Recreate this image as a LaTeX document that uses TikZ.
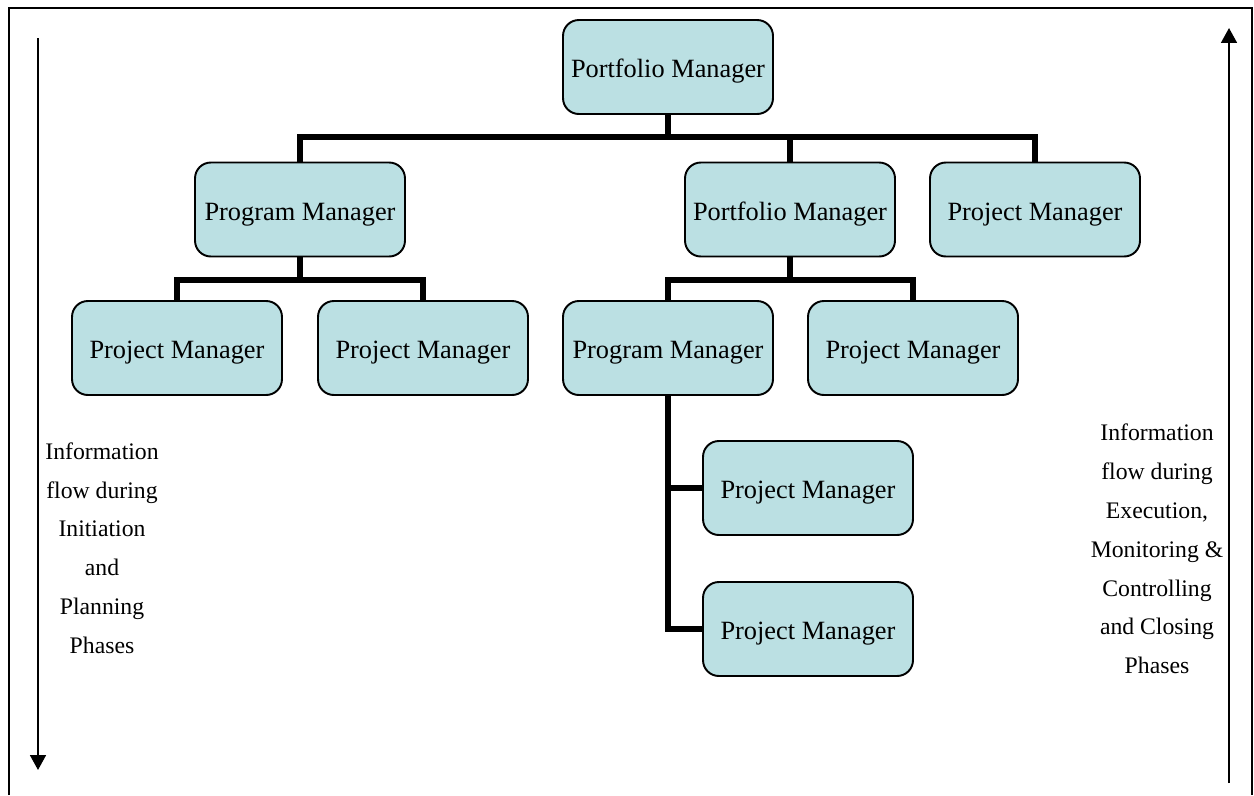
\documentclass[tikz,border=0pt]{standalone}
\usepackage{fontspec}
\setmainfont{Liberation Serif}
\usetikzlibrary{arrows.meta}
\definecolor{boxfill}{RGB}{187,224,227}
\tikzset{
  role/.style={draw=black, line width=1.1pt, fill=boxfill, rounded corners=9pt,
    minimum width=4.2cm, minimum height=1.88cm, inner sep=0pt,
    text height=12.4pt, text depth=0pt,
    font=\fontsize{15}{18}\selectfont},
  link/.style={line width=3.4pt, line join=miter},
  flow/.style={line width=1.2pt, -{Triangle[width=9pt,length=8.5pt]}},
  note/.style={align=center, font=\fontsize{13.5}{22.1}\selectfont},
  frame/.style={line width=1.2pt}
}
\begin{document}
\begin{tikzpicture}[x=0.02cm, y=-0.02cm]
  \useasboundingbox (0,0) rectangle (1254,795);
  % outer frame, open at the bottom
  \draw[frame] (9,795) -- (9,8) -- (1252,8) -- (1252,795);

  % hierarchy boxes
  \node[role] (pf1) at (668,67) {Portfolio Manager};
  \node[role] (pg1) at (300,209.5) {Program Manager};
  \node[role] (pf2) at (790,209.5) {Portfolio Manager};
  \node[role] (pj1) at (1035,209.5) {Project Manager};
  \node[role] (pj2) at (177,348) {Project Manager};
  \node[role] (pj3) at (423,348) {Project Manager};
  \node[role] (pg2) at (668,348) {Program Manager};
  \node[role] (pj4) at (913,348) {Project Manager};
  \node[role] (pj5) at (808,488) {Project Manager};
  \node[role] (pj6) at (808,629) {Project Manager};

  % bus levels
  \coordinate (bus1) at (0,137);
  \coordinate (bus2) at (0,280);

  % level 1 -> level 2
  \draw[link] (pf1.south) -- (pf1.south |- bus1);
  \draw[link] (pg1.north) |- (pj1.north |- bus1) -- (pj1.north);
  \draw[link] (pf2.north) -- (pf2.north |- bus1);

  % level 2 -> level 3
  \draw[link] (pg1.south) -- (pg1.south |- bus2);
  \draw[link] (pj2.north) |- (pj3.north |- bus2) -- (pj3.north);
  \draw[link] (pf2.south) -- (pf2.south |- bus2);
  \draw[link] (pg2.north) |- (pj4.north |- bus2) -- (pj4.north);

  % level 3 -> level 4
  \draw[link] (pg2.south) |- (pj6.west);
  \draw[link] (pj5.west) -- (pj5.west -| pg2.south);

  % information flow arrows
  \coordinate (la) at (38,38);
  \coordinate (lb) at (38,770);
  \coordinate (ra) at (1229,783);
  \coordinate (rb) at (1229,28);
  \draw[flow] (la) -- (lb);
  \draw[flow] (ra) -- (rb);

  \node[note] (lnote) at (102,548) {Information\\flow during\\Initiation\\and\\Planning\\Phases};
  \node[note] (rnote) at (1157,549) {Information\\flow during\\Execution,\\Monitoring \&\\Controlling\\and Closing\\Phases};
\end{tikzpicture}
\end{document}
